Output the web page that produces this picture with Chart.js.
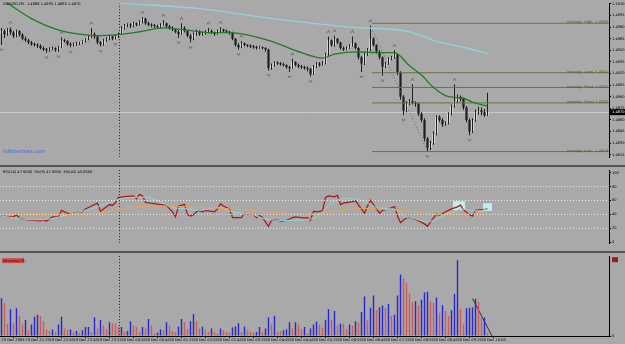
<!DOCTYPE html>
<html>
<head>
<meta charset="utf-8">
<script src="https://cdn.jsdelivr.net/npm/chart.js@4.4.0/dist/chart.umd.min.js"></script>
<style>
  body { margin: 0; background: #555; width: 625px; height: 344px; overflow: hidden; position: relative; }
  canvas { position: absolute; left: 0; background: #a9a9a9; }
  #price { top: 0; }
  #rsi { top: 167px; }
  #vol { top: 253px; }
</style>
</head>
<body>
<canvas id="price" width="625" height="165"></canvas>
<canvas id="rsi" width="625" height="84"></canvas>
<canvas id="vol" width="625" height="91"></canvas>
<script>
// ### data ###
const symbol = "GBPUSD,M5";

const opens = [1.4972,1.4975,1.4971,1.4977,1.4973,1.4969,1.4975,1.4970,1.4965,1.4963,
  1.4960,1.4958,1.4957,1.4956,1.4953,1.4951,1.4950,1.4952,1.4953,1.4951,
  1.4954,1.4963,1.4962,1.4958,1.4957,1.4958,1.4959,1.4959,1.4962,1.4965,
  1.4968,1.4971,1.4968,1.4960,1.4958,1.4963,1.4965,1.4968,1.4965,1.4968,
  1.4971,1.4979,1.4982,1.4983,1.4982,1.4985,1.4983,1.4987,1.4991,1.4985,
  1.4983,1.4982,1.4981,1.4980,1.4983,1.4985,1.4981,1.4979,1.4977,1.4974,
  1.4971,1.4979,1.4975,1.4969,1.4965,1.4971,1.4975,1.4971,1.4972,1.4974,
  1.4975,1.4973,1.4971,1.4975,1.4977,1.4975,1.4974,1.4973,1.4965,1.4957,
  1.4954,1.4959,1.4957,1.4956,1.4955,1.4954,1.4953,1.4954,1.4953,1.4951,
  1.4927,1.4931,1.4934,1.4933,1.4932,1.4931,1.4928,1.4927,1.4935,1.4931,
  1.4929,1.4928,1.4927,1.4926,1.4919,1.4929,1.4933,1.4931,1.4933,1.4945,
  1.4963,1.4957,1.4965,1.4960,1.4953,1.4951,1.4953,1.4956,1.4959,1.4953,
  1.4941,1.4933,1.4945,1.4951,1.4965,1.4957,1.4948,1.4941,1.4929,1.4933,
  1.4939,1.4941,1.4945,1.4921,1.4890,1.4872,1.4881,1.4884,1.4882,1.4881,
  1.4868,1.4860,1.4836,1.4824,1.4830,1.4842,1.4864,1.4860,1.4854,1.4856,
  1.4868,1.4878,1.4884,1.4890,1.4887,1.4876,1.4860,1.4845,1.4860,1.4870,
  1.4872,1.4870,1.4866];
const highs = [1.4979,1.4977,1.4979,1.4980,1.4975,1.4977,1.4976,1.4972,1.4968,1.4965,
  1.4962,1.4960,1.4959,1.4958,1.4955,1.4953,1.4954,1.4955,1.4954,1.4956,
  1.4967,1.4965,1.4963,1.4960,1.4960,1.4961,1.4961,1.4963,1.4966,1.4970,
  1.4979,1.4973,1.4969,1.4962,1.4965,1.4967,1.4970,1.4969,1.4970,1.4973,
  1.4981,1.4984,1.4985,1.4985,1.4987,1.4986,1.4989,1.4993,1.4992,1.4987,
  1.4985,1.4984,1.4983,1.4985,1.4989,1.4986,1.4983,1.4981,1.4978,1.4976,
  1.4985,1.4981,1.4976,1.4971,1.4973,1.4977,1.4976,1.4974,1.4976,1.4979,
  1.4977,1.4974,1.4977,1.4980,1.4978,1.4977,1.4975,1.4974,1.4966,1.4959,
  1.4962,1.4960,1.4958,1.4958,1.4957,1.4956,1.4956,1.4955,1.4954,1.4952,
  1.4933,1.4936,1.4936,1.4935,1.4934,1.4932,1.4930,1.4939,1.4936,1.4933,
  1.4931,1.4930,1.4929,1.4927,1.4931,1.4935,1.4935,1.4936,1.4947,1.4968,
  1.4964,1.4969,1.4966,1.4961,1.4955,1.4955,1.4958,1.4968,1.4960,1.4954,
  1.4943,1.4947,1.4953,1.4982,1.4967,1.4958,1.4950,1.4942,1.4935,1.4941,
  1.4943,1.4950,1.4946,1.4923,1.4892,1.4884,1.4887,1.4906,1.4884,1.4882,
  1.4870,1.4862,1.4838,1.4833,1.4845,1.4866,1.4866,1.4862,1.4858,1.4870,
  1.4880,1.4906,1.4893,1.4892,1.4889,1.4878,1.4862,1.4862,1.4873,1.4877,
  1.4876,1.4874,1.4895];
const lows = [1.4957,1.4966,1.4969,1.4970,1.4966,1.4967,1.4968,1.4963,1.4961,1.4958,
  1.4956,1.4955,1.4953,1.4951,1.4949,1.4947,1.4948,1.4950,1.4948,1.4948,
  1.4953,1.4960,1.4956,1.4954,1.4955,1.4956,1.4957,1.4958,1.4960,1.4963,
  1.4966,1.4965,1.4958,1.4955,1.4956,1.4961,1.4963,1.4963,1.4964,1.4966,
  1.4970,1.4977,1.4980,1.4979,1.4980,1.4981,1.4982,1.4985,1.4983,1.4981,
  1.4980,1.4979,1.4978,1.4979,1.4982,1.4979,1.4977,1.4975,1.4972,1.4966,
  1.4970,1.4973,1.4967,1.4960,1.4963,1.4969,1.4969,1.4969,1.4970,1.4972,
  1.4971,1.4969,1.4970,1.4973,1.4973,1.4972,1.4970,1.4963,1.4955,1.4951,
  1.4953,1.4955,1.4954,1.4953,1.4952,1.4951,1.4952,1.4951,1.4948,1.4924,
  1.4925,1.4929,1.4931,1.4930,1.4929,1.4926,1.4922,1.4926,1.4929,1.4927,
  1.4926,1.4925,1.4923,1.4916,1.4918,1.4927,1.4929,1.4930,1.4932,1.4943,
  1.4955,1.4955,1.4958,1.4951,1.4949,1.4950,1.4952,1.4955,1.4951,1.4938,
  1.4922,1.4931,1.4943,1.4949,1.4955,1.4946,1.4938,1.4917,1.4927,1.4931,
  1.4937,1.4939,1.4918,1.4886,1.4866,1.4870,1.4879,1.4880,1.4877,1.4865,
  1.4857,1.4832,1.4819,1.4821,1.4828,1.4840,1.4857,1.4851,1.4852,1.4854,
  1.4866,1.4876,1.4882,1.4884,1.4873,1.4857,1.4840,1.4843,1.4858,1.4867,
  1.4866,1.4864,1.4865];
const closes = [1.4975,1.4971,1.4977,1.4973,1.4969,1.4975,1.4970,1.4965,1.4963,1.4960,
  1.4958,1.4957,1.4956,1.4953,1.4951,1.4950,1.4952,1.4953,1.4951,1.4954,
  1.4963,1.4962,1.4958,1.4957,1.4958,1.4959,1.4959,1.4962,1.4965,1.4968,
  1.4971,1.4968,1.4960,1.4958,1.4963,1.4965,1.4968,1.4965,1.4968,1.4971,
  1.4979,1.4982,1.4983,1.4982,1.4985,1.4983,1.4987,1.4991,1.4985,1.4983,
  1.4982,1.4981,1.4980,1.4983,1.4985,1.4981,1.4979,1.4977,1.4974,1.4971,
  1.4979,1.4975,1.4969,1.4965,1.4971,1.4975,1.4971,1.4972,1.4974,1.4975,
  1.4973,1.4971,1.4975,1.4977,1.4975,1.4974,1.4973,1.4965,1.4957,1.4954,
  1.4959,1.4957,1.4956,1.4955,1.4954,1.4953,1.4954,1.4953,1.4951,1.4927,
  1.4931,1.4934,1.4933,1.4932,1.4931,1.4928,1.4927,1.4935,1.4931,1.4929,
  1.4928,1.4927,1.4926,1.4919,1.4929,1.4933,1.4931,1.4933,1.4945,1.4963,
  1.4957,1.4965,1.4960,1.4953,1.4951,1.4953,1.4956,1.4959,1.4953,1.4941,
  1.4933,1.4945,1.4951,1.4965,1.4957,1.4948,1.4941,1.4929,1.4933,1.4939,
  1.4941,1.4945,1.4921,1.4890,1.4872,1.4881,1.4884,1.4882,1.4881,1.4868,
  1.4860,1.4836,1.4824,1.4830,1.4842,1.4864,1.4860,1.4854,1.4856,1.4868,
  1.4878,1.4884,1.4890,1.4887,1.4876,1.4860,1.4845,1.4860,1.4870,1.4872,
  1.4870,1.4866,1.4870];

// fractal marks (bar indexes)
const fractalUp = [3, 20, 30, 47, 54, 60, 69, 73, 80, 97, 109, 111, 117, 123, 131, 137, 151];
const fractalDown = [0, 15, 19, 23, 33, 38, 59, 63, 79, 89, 96, 103, 120, 127, 134, 142, 156];

// moving averages on price (bar index, value)
const maGreenIdx = [2, 10, 20, 26, 33, 38, 46, 54, 60, 70, 76, 89, 100, 107, 111, 119, 125, 131, 136, 140, 144, 149, 154, 157, 162];
const maGreenVal = [1.5011, 1.4991, 1.4975, 1.4971, 1.4969, 1.4970, 1.4974, 1.4979, 1.4977, 1.4973, 1.4973, 1.4963, 1.4947, 1.4940, 1.4945, 1.4948, 1.4947, 1.4947, 1.4930, 1.4918, 1.4902, 1.4890, 1.4888, 1.4883, 1.4878];
const maCyanIdx = [39, 66, 83, 99, 116, 136, 144, 155, 162];
const maCyanVal = [1.5011, 1.5004, 1.4995, 1.4987, 1.4980, 1.4974, 1.4963, 1.4953, 1.4946];

// zigzag swing
const zigzagIdx = [123, 142];
const zigzagVal = [1.4982, 1.4819];

// intraday pivot levels
const pivotNames = ["Intraday  High", "Intraday  Long", "Intraday  Pivot", "Intraday  Short", "Intraday  Low"];
const pivotLevels = [1.4985, 1.4921, 1.4902, 1.4882, 1.4819];
const pivotStartBar = 123.5;

const priceTicks = [1.5010, 1.4995, 1.4980, 1.4965, 1.4950, 1.4935, 1.4920, 1.4905, 1.4890, 1.4875, 1.4860, 1.4845, 1.4830, 1.4815];

// RSI panel (bar index, value)
const rsiIdx = [0,2,4,5,6,8,11,13,14,15,17,19,20,22,23,25,27,28,30,31,32,33,34,36,37,38,39,42,44,45,46,47,48,51,53,55,56,57,58,59,61,62,63,64,65,66,67,68,71,72,73,74,76,77,80,81,82,84,85,86,87,89,90,92,93,95,96,97,98,101,102,103,104,105,107,108,109,111,112,113,114,115,117,118,121,122,123,124,126,127,129,131,132,133,135,136,138,141,142,143,145,146,148,150,152,153,154,156,157,158,160,161,162];
const rsiVal = [37.5,36.7,36.3,39.6,34.2,32.5,31.3,30.8,32.1,30.4,36.3,36.3,45.8,41.7,40.4,42.9,43.8,47.9,52.1,54.2,56.3,44.6,47.9,54.2,52.9,57.1,64.6,65.8,66.7,62.5,68.8,66.7,57.1,55.4,54.2,52.9,47.9,43.8,36.3,52.1,54.2,39.6,37.5,39.6,43.8,45.8,43.8,45.8,43.8,47.9,55.4,52.1,47.9,35.4,35.4,41.7,40.4,39.6,35.4,38.3,35.4,22.9,31.3,32.1,30.4,31.3,33.3,35.4,36.3,34.6,35.4,31.3,44.6,43.8,45.0,64.6,66.7,65.4,67.5,54.2,56.3,57.1,58.3,59.6,41.7,52.1,60.4,54.2,41.7,45.8,47.9,51.3,37.5,27.9,35.4,34.6,32.9,26.3,22.9,29.2,40.4,38.8,43.8,47.9,50.8,53.3,46.7,39.6,37.5,45.8,46.7,47.1,47.9];
const rsiMaFastIdx = [0, 11, 16, 22, 27, 33, 38, 44, 48, 53, 57, 62, 66, 72, 77, 83, 88, 94, 103, 106, 110, 114, 117, 121, 125, 130, 132, 134, 138, 142, 145, 148, 151, 153, 156, 159, 162];
const rsiMaFastVal = [37.5, 32.1, 33.3, 39.6, 44.6, 52.1, 60.4, 64.6, 64.6, 58.3, 50.0, 47.9, 45.8, 50.0, 43.8, 40.4, 33.3, 31.3, 33.3, 39.6, 56.3, 62.5, 62.5, 58.3, 50.0, 47.9, 45.8, 37.5, 33.3, 29.2, 33.3, 39.6, 43.8, 47.9, 45.8, 45.0, 47.9];
const rsiMaSlowIdx = [0, 16, 27, 36, 44, 55, 66, 77, 88, 103, 114, 120, 125, 136, 147, 153, 158, 162];
const rsiMaSlowVal = [40.4, 39.6, 40.4, 43.8, 50.8, 52.1, 50.0, 47.9, 43.8, 40.4, 45.8, 48.8, 47.9, 44.6, 39.6, 39.6, 41.7, 43.8];
const rsiLevels = [20, 40, 60, 80];
const rsiTicks = [0, 20, 40, 60, 80, 100];
// highlighted RSI zones
const rsiBoxStart = [150.5, 160.5];
const rsiBoxEnd = [154.5, 163.5];
const rsiBoxLow = [46, 45];
const rsiBoxHigh = [59, 56];

// volumes, b = rising (blue), r = falling (red)
const volumes = [157,137,51,111,53,115,84,48,67,24,
  48,80,88,84,61,27,21,27,17,48,
  80,31,24,27,17,21,13,24,37,37,
  17,77,31,67,44,27,57,53,51,37,
  37,17,21,61,44,37,17,37,31,71,
  44,11,13,28,24,57,44,21,17,40,
  71,57,28,61,91,61,31,40,27,17,
  31,17,11,31,24,17,13,35,40,53,
  17,40,24,17,13,17,37,17,31,77,
  48,84,17,21,24,28,57,31,57,48,
  29,37,11,31,48,59,48,35,68,111,
  68,104,44,51,51,27,48,44,61,55,
  100,164,64,117,168,108,120,127,117,133,
  84,88,168,256,240,221,177,140,144,128,
  151,181,184,144,137,160,97,128,104,83,
  107,175,315,113,48,115,117,120,155,141,
  77,77,13];
const volSide = ("brrbrbrrbr" + "bbbrrrrbrb" + "brrbrbrbbb" + "rbrbrrbrrr" + "brbbrrrbrb" +
  "rrbbrbrrrb" + "brrbbrrbrr" + "brrbrrrbbb" + "rbrrrbbrbb" + "rbrrbbbrbr" + "rbrb" +
  "bbrrbbrbrb" + "rrbrbrbbrb" + "brbbrbrbbb" + "rrrrbrbbbr" + "rbrbrrbbbr" + "rbbbbrrbr").split("");
const volLineIdx = [157, 163.5];
const volLineVal = [156, 0];

// time axis
const labelIdx = [0, 8, 16, 24, 32, 40, 48, 56, 64, 72, 80, 88, 96, 104, 112, 120, 128, 136, 144, 152, 160];
const timeLabels = ["19 Nov 2009", "19 Nov 21:25", "19 Nov 22:05", "19 Nov 22:45", "19 Nov 23:25",
  "20 Nov 00:05", "20 Nov 00:45", "20 Nov 01:25", "20 Nov 02:05", "20 Nov 02:45", "20 Nov 03:25",
  "20 Nov 04:05", "20 Nov 04:45", "20 Nov 05:25", "20 Nov 06:05", "20 Nov 06:45", "20 Nov 07:25",
  "20 Nov 08:05", "20 Nov 08:45", "20 Nov 09:25", "20 Nov 10:05"];
const daySeparatorBar = 39;
const totalSlots = 203;

// ### colors ###
const GREEN = "#237a23";
const CYAN = "#8dd4dc";
const OLIVE = "#66763a";
const RSI_RED = "#b01616";
const RSI_ORANGE = "#e6a25a";
const VOL_BLUE = "#2626d2";
const VOL_RED = "#d05a5a";
const FONT = "DejaVu Sans";

// ### helpers ###
const bars = closes.map((c, i) => i);
const pts = (xs, ys) => xs.map((v, i) => ({ x: v, y: ys[i] }));
const last = closes.length - 1;

function xAxis(show) {
  return {
    type: "linear",
    min: -0.5,
    max: totalSlots - 0.5,
    offset: false,
    display: show,
    grid: { drawOnChartArea: false, tickLength: 2, color: "#000" },
    border: { color: "#000" },
    afterBuildTicks: (s) => { s.ticks = labelIdx.map((v) => ({ value: v })); },
    afterFit: (s) => { s.height = 8; },
    ticks: {
      autoSkip: false, maxRotation: 0, align: "start", padding: 0,
      color: "#000", font: { family: FONT, size: 3.6 },
      callback: (v) => timeLabels[labelIdx.indexOf(v)],
    },
  };
}

function yAxis(min, max, ticks, fmt) {
  return {
    position: "right",
    min, max,
    grid: { drawOnChartArea: false, tickLength: 2, color: "#000" },
    border: { color: "#000" },
    afterBuildTicks: (s) => { s.ticks = ticks.map((v) => ({ value: v })); },
    afterFit: (s) => { s.width = 16; },
    ticks: {
      autoSkip: false, padding: 1, color: "#000",
      font: { family: FONT, size: 3.6 },
      callback: fmt,
    },
  };
}

function lineSet(data, color, extra) {
  return Object.assign({
    type: "line", data, borderColor: color, borderWidth: 1,
    pointRadius: 0, fill: false, tension: 0,
  }, extra || {});
}

const baseOptions = {
  responsive: false,
  animation: false,
  devicePixelRatio: 1,
  events: [],
  layout: { padding: 0 },
  plugins: { legend: { display: false }, tooltip: { enabled: false } },
};

function drawSeparator(chart) {
  const { ctx, chartArea: a, scales: { x } } = chart;
  const sx = Math.round(x.getPixelForValue(daySeparatorBar)) + 0.5;
  ctx.save();
  ctx.strokeStyle = "#222";
  ctx.lineWidth = 1;
  ctx.setLineDash([1, 2]);
  ctx.beginPath();
  ctx.moveTo(sx, a.top);
  ctx.lineTo(sx, a.bottom);
  ctx.stroke();
  ctx.restore();
}

// ### price panel ###
const priceExtras = {
  id: "priceExtras",
  beforeDatasetsDraw(chart) {
    const { ctx, chartArea: a, scales: { y } } = chart;
    const py = Math.round(y.getPixelForValue(closes[last])) + 0.5;
    ctx.save();
    ctx.strokeStyle = "#c9c9c9";
    ctx.lineWidth = 1;
    ctx.beginPath();
    ctx.moveTo(a.left, py);
    ctx.lineTo(a.right, py);
    ctx.stroke();
    ctx.restore();
    drawSeparator(chart);
  },
  afterDatasetsDraw(chart) {
    const { ctx, chartArea: a, scales: { x, y } } = chart;
    ctx.save();
    // fractal arrows
    ctx.strokeStyle = "#6a6a6a";
    ctx.lineWidth = 1;
    fractalUp.forEach((i) => {
      const fx = x.getPixelForValue(i);
      const fy = y.getPixelForValue(highs[i]) - 5;
      ctx.beginPath();
      ctx.moveTo(fx - 1.5, fy + 1.5);
      ctx.lineTo(fx, fy - 1);
      ctx.lineTo(fx + 1.5, fy + 1.5);
      ctx.stroke();
    });
    fractalDown.forEach((i) => {
      const fx = x.getPixelForValue(i);
      const fy = y.getPixelForValue(lows[i]) + 5;
      ctx.beginPath();
      ctx.moveTo(fx - 1.5, fy - 1.5);
      ctx.lineTo(fx, fy + 1);
      ctx.lineTo(fx + 1.5, fy - 1.5);
      ctx.stroke();
    });
    // pivot labels
    ctx.fillStyle = "#4b5a22";
    ctx.font = "3.6px " + FONT;
    ctx.textBaseline = "bottom";
    pivotLevels.forEach((lvl, k) => {
      const ly = y.getPixelForValue(lvl) + 1;
      ctx.textAlign = "left";
      ctx.fillText(pivotNames[k], a.right - 42, ly);
      ctx.textAlign = "right";
      ctx.fillText(lvl.toFixed(4), a.right - 1, ly);
    });
    // titles
    ctx.textBaseline = "top";
    ctx.textAlign = "left";
    ctx.fillStyle = "#000";
    ctx.font = "3.6px " + FONT;
    ctx.fillText(symbol + "  " + [opens[last], highs[last], lows[last], closes[last]].map((v) => v.toFixed(4)).join(" "), 3, 2);
    ctx.fillStyle = "#3f5fd0";
    ctx.font = "5px " + FONT;
    ctx.fillText("fxfisherman.com", 3, a.bottom - 8);
    ctx.restore();
  },
  afterDraw(chart) {
    const { ctx, chartArea: a, scales: { y } } = chart;
    const py = y.getPixelForValue(closes[last]);
    ctx.save();
    ctx.fillStyle = "#000";
    ctx.fillRect(a.right + 1, py - 3, 15, 6);
    ctx.fillStyle = "#fff";
    ctx.font = "3.6px " + FONT;
    ctx.textBaseline = "middle";
    ctx.fillText(closes[last].toFixed(4), a.right + 3, py);
    ctx.restore();
  },
};

const priceDatasets = [
  lineSet(pts(maCyanIdx, maCyanVal), CYAN, { cubicInterpolationMode: "monotone", borderWidth: 1.3 }),
  lineSet(pts(maGreenIdx, maGreenVal), GREEN, { cubicInterpolationMode: "monotone", borderWidth: 1.3 }),
  lineSet(pts(zigzagIdx, zigzagVal), "#6e6e6e", { borderDash: [1, 2] }),
];
pivotLevels.forEach((lvl) => {
  priceDatasets.push(lineSet(pts([pivotStartBar, totalSlots - 0.5], [lvl, lvl]), OLIVE));
});
priceDatasets.push({
  type: "bar",
  data: bars.map((i) => ({ x: i, y: [lows[i], highs[i]] })),
  backgroundColor: "#1e1e1e",
  barThickness: 1,
  inflateAmount: 0,
  grouped: false,
  borderWidth: 0,
});
priceDatasets.push({
  type: "bar",
  data: bars.map((i) => ({ x: i, y: [opens[i], closes[i]] })),
  backgroundColor: (c) => (closes[c.dataIndex] >= opens[c.dataIndex] ? "#ffffff" : "#000000"),
  barThickness: 2,
  inflateAmount: 0,
  minBarLength: 1,
  grouped: false,
  borderWidth: 0,
});

new Chart(document.getElementById("price"), {
  type: "bar",
  data: { datasets: priceDatasets },
  options: Object.assign({}, baseOptions, {
    scales: {
      x: xAxis(false),
      y: yAxis(1.4812, 1.5011, priceTicks, (v) => v.toFixed(4)),
    },
  }),
  plugins: [priceExtras],
});

// ### rsi panel ###
const rsiExtras = {
  id: "rsiExtras",
  beforeDatasetsDraw(chart) {
    const { ctx, scales: { x, y } } = chart;
    ctx.save();
    ctx.fillStyle = "#c2eef2";
    rsiBoxStart.forEach((s, k) => {
      const x0 = x.getPixelForValue(s);
      const x1 = x.getPixelForValue(rsiBoxEnd[k]);
      const y0 = y.getPixelForValue(rsiBoxHigh[k]);
      const y1 = y.getPixelForValue(rsiBoxLow[k]);
      ctx.fillRect(x0, y0, x1 - x0, y1 - y0);
    });
    ctx.restore();
    drawSeparator(chart);
  },
  afterDraw(chart) {
    const { ctx } = chart;
    ctx.save();
    ctx.fillStyle = "#000";
    ctx.font = "3.6px " + FONT;
    ctx.textBaseline = "top";
    const lr = rsiVal.length - 1;
    ctx.fillText("RSI(14) " + rsiVal[lr].toFixed(4) + "  MA(9) " + rsiMaFastVal[rsiMaFastVal.length - 1].toFixed(4) +
      "  MA(45) " + rsiMaSlowVal[rsiMaSlowVal.length - 1].toFixed(4), 3, 3);
    ctx.restore();
  },
};

const rsiDatasets = rsiLevels.map((lvl) =>
  lineSet(pts([-0.5, totalSlots - 0.5], [lvl, lvl]), "#ececec", { borderDash: [1, 2] }));
rsiDatasets.push(lineSet(pts(rsiMaSlowIdx, rsiMaSlowVal), RSI_ORANGE, { cubicInterpolationMode: "monotone" }));
rsiDatasets.push(lineSet(pts(rsiMaFastIdx, rsiMaFastVal), CYAN, { cubicInterpolationMode: "monotone" }));
rsiDatasets.push(lineSet(pts(rsiIdx, rsiVal), RSI_RED, { borderWidth: 1.25 }));

new Chart(document.getElementById("rsi"), {
  type: "line",
  data: { datasets: rsiDatasets },
  options: Object.assign({}, baseOptions, {
    scales: {
      x: xAxis(false),
      y: yAxis(-1.25, 103.75, rsiTicks, (v) => String(v)),
    },
  }),
  plugins: [rsiExtras],
});

// ### volume panel ###
const volExtras = {
  id: "volExtras",
  beforeDatasetsDraw(chart) {
    drawSeparator(chart);
  },
  afterDraw(chart) {
    const { ctx, chartArea: a } = chart;
    ctx.save();
    ctx.fillStyle = "#d24a4a";
    ctx.fillRect(2, a.top + 2, 22, 5);
    ctx.fillStyle = "#400";
    ctx.font = "3.6px " + FONT;
    ctx.textBaseline = "middle";
    ctx.fillText("Volumes(" + volumes[last] + ")", 3, a.top + 4.5);
    ctx.fillStyle = "#a01818";
    ctx.fillRect(a.right + 3, a.top + 1, 6, 5);
    ctx.restore();
  },
};

new Chart(document.getElementById("vol"), {
  type: "bar",
  data: {
    datasets: [
      {
        type: "bar",
        data: bars.map((i) => ({ x: i, y: volumes[i] })),
        backgroundColor: (c) => (volSide[c.dataIndex] === "b" ? VOL_BLUE : VOL_RED),
        barThickness: 1.4,
        inflateAmount: 0,
        grouped: false,
        borderWidth: 0,
      },
      lineSet(pts(volLineIdx, volLineVal), "#333"),
    ],
  },
  options: Object.assign({}, baseOptions, {
    scales: {
      x: xAxis(true),
      y: yAxis(0, 332, [0], (v) => String(v)),
    },
  }),
  plugins: [volExtras],
});
</script>
</body>
</html>
